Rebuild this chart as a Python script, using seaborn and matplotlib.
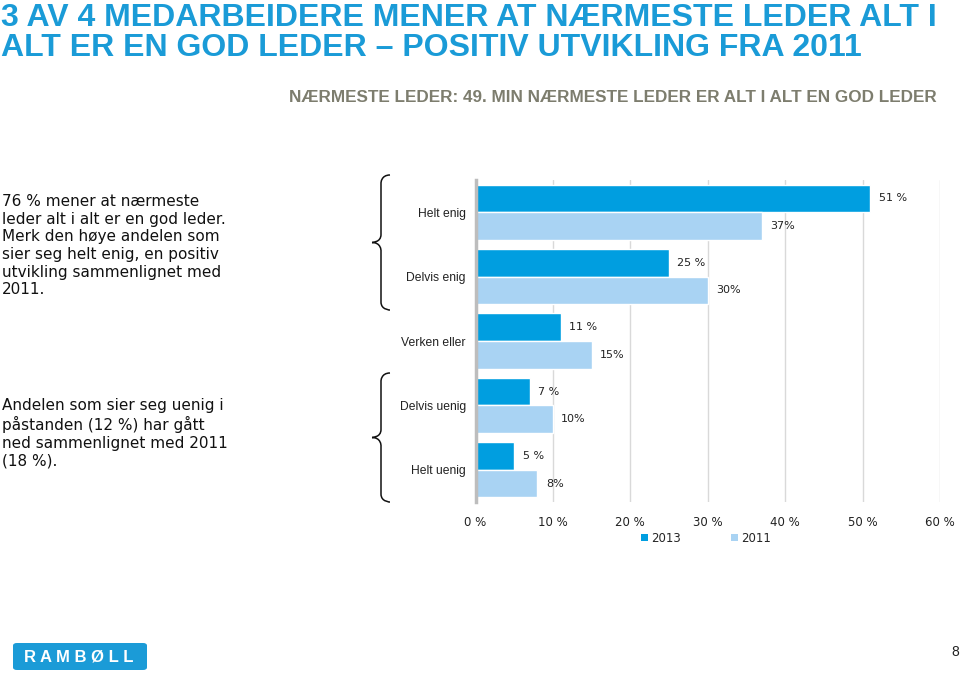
import matplotlib
matplotlib.use("Agg")
import matplotlib.pyplot as plt
import seaborn as sns
import pandas as pd
from matplotlib.path import Path
from matplotlib.patches import PathPatch, Patch, FancyBboxPatch

# ---- data ----
categories = ["Helt enig", "Delvis enig", "Verken eller", "Delvis uenig", "Helt uenig"]
years = ["2013", "2011"]
values_2013 = [51, 25, 11, 7, 5]
values_2011 = [37, 30, 15, 10, 8]
labels_2013 = ["51 %", "25 %", "11 %", "7 %", "5 %"]
labels_2011 = ["37%", "30%", "15%", "10%", "8%"]
xticks = [0, 10, 20, 30, 40, 50, 60]
xtick_labels = ["0 %", "10 %", "20 %", "30 %", "40 %", "50 %", "60 %"]

title_text = "3 AV 4 MEDARBEIDERE MENER AT NÆRMESTE LEDER ALT I\nALT ER EN GOD LEDER – POSITIV UTVIKLING FRA 2011"
subtitle_text = "NÆRMESTE LEDER: 49. MIN NÆRMESTE LEDER ER ALT I ALT EN GOD LEDER"
note_top = ("76 % mener at nærmeste\nleder alt i alt er en god leder.\nMerk den høye andelen som\n"
            "sier seg helt enig, en positiv\nutvikling sammenlignet med\n2011.")
note_bottom = "Andelen som sier seg uenig i\npåstanden (12 %) har gått\nned sammenlignet med 2011\n(18 %)."

c2013 = "#009ee0"
c2011 = "#a9d3f3"

df = pd.DataFrame({
    "category": categories * 2,
    "value": values_2013 + values_2011,
    "year": [years[0]] * len(categories) + [years[1]] * len(categories),
})

sns.set_theme(style="white")
plt.rcParams["font.family"] = ["DejaVu Sans"]

W, H = 960, 675
fig = plt.figure(figsize=(9.6, 6.75), dpi=100)

def fx(x):
    return x / W

def fy(y):
    return 1 - y / H

ax = fig.add_axes([fx(475.5), fy(502), fx(940) - fx(475.5), fy(180) - fy(502)])
sns.barplot(data=df, x="value", y="category", hue="year", orient="h",
            palette=[c2013, c2011], width=0.855, ax=ax, saturation=1,
            errorbar=None, legend=False)

ax.set_xlim(0, 60)
ax.set_ylim(4.5, -0.5)
ax.set_xticks(xticks)
ax.set_xticklabels(xtick_labels, fontsize=8.5, color="#222222")
ax.set_xlabel("")
ax.set_ylabel("")
ax.set_yticks(range(len(categories)))
ax.set_yticklabels(categories, fontsize=8.7, family="Liberation Sans", color="#222222")
ax.tick_params(axis="x", length=0, pad=10)
ax.tick_params(axis="y", length=0, pad=7)
ax.grid(axis="x", color="#d9d9d9", linewidth=1)
ax.set_axisbelow(True)
for s in ["top", "right", "bottom"]:
    ax.spines[s].set_visible(False)
ax.spines["left"].set_color("#bdbdbd")
ax.spines["left"].set_linewidth(2.5)

for cont, labs in zip(ax.containers, [labels_2013, labels_2011]):
    ax.bar_label(cont, labels=labs, padding=6, fontsize=8, color="#222222")

handles = [Patch(facecolor=c2013, edgecolor="none"), Patch(facecolor=c2011, edgecolor="none")]
fig.legend(handles, years, loc="center", bbox_to_anchor=(fx(706), fy(538)), ncol=2,
           frameon=False, fontsize=8.5, handlelength=0.55, handleheight=0.55,
           handletextpad=0.25, columnspacing=4.3)

# ---- titles ----
fig.text(fx(1), fy(3), title_text, ha="left", va="top", fontsize=23, fontweight="bold",
         color="#1a9bd7", family=["Liberation Sans", "DejaVu Sans"], linespacing=1.0)
fig.text(fx(937), fy(97), subtitle_text, ha="right", va="center", fontsize=12.3,
         fontweight="bold", color="#7d7d6e", family=["Liberation Sans", "DejaVu Sans"])

fig.text(fx(2), fy(194), note_top, ha="left", va="top", fontsize=11, color="#111111",
         linespacing=1.22)
fig.text(fx(2), fy(398), note_bottom, ha="left", va="top", fontsize=11, color="#111111",
         linespacing=1.22)

# ---- braces ----
def brace(x_end, x_mid, x_tip, y_top, y_bot):
    y_c = (y_top + y_bot) / 2
    r = 8
    verts = [
        (x_end, y_top),
        (x_mid, y_top), (x_mid, y_top + r), (x_mid, y_top + r),
        (x_mid, y_c - r),
        (x_mid, y_c), (x_tip, y_c), (x_tip, y_c),
        (x_mid, y_c), (x_mid, y_c + r), (x_mid, y_c + r),
        (x_mid, y_bot - r),
        (x_mid, y_bot), (x_end, y_bot), (x_end, y_bot),
    ]
    codes = [Path.MOVETO,
             Path.CURVE4, Path.CURVE4, Path.CURVE4,
             Path.LINETO,
             Path.CURVE4, Path.CURVE4, Path.CURVE4,
             Path.CURVE4, Path.CURVE4, Path.CURVE4,
             Path.LINETO,
             Path.CURVE4, Path.CURVE4, Path.CURVE4]
    verts = [(fx(x), fy(y)) for x, y in verts]
    fig.patches.append(PathPatch(Path(verts, codes), transform=fig.transFigure,
                                 facecolor="none", edgecolor="#111111", linewidth=1.1))

brace(390, 381, 372, 175, 310)
brace(390, 381, 372, 373, 502)

# ---- logo and page number ----
logo = FancyBboxPatch((fx(13), fy(670)), fx(134), fy(643) - fy(670),
                      boxstyle="round,pad=0,rounding_size=0.004", transform=fig.transFigure,
                      facecolor="#1b9bd7", edgecolor="none")
fig.patches.append(logo)
fig.text(fx(79), fy(657), "R A M B Ø L L", ha="center", va="center", fontsize=12,
         fontweight="bold", color="white", family=["Liberation Sans", "DejaVu Sans"])
fig.text(fx(955), fy(652), "8", ha="center", va="center", fontsize=10, color="#222222",
         family=["Liberation Sans", "DejaVu Sans"])

fig.savefig("out.png", dpi=100)
